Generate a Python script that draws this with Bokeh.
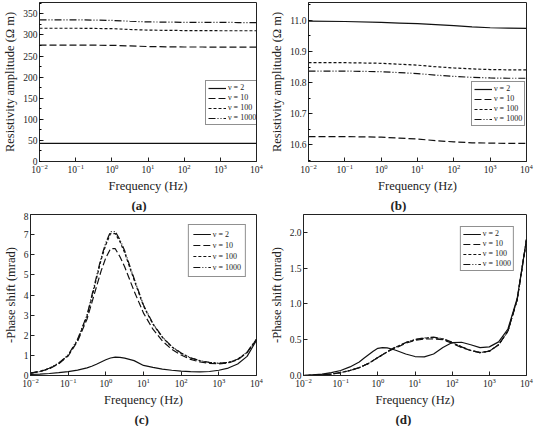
import numpy as np
from bokeh.plotting import figure
from bokeh.models import Title, Range1d, SingleIntervalTicker, FixedTicker, NumeralTickFormatter
from bokeh.layouts import column, row
from bokeh.embed import file_html
from bokeh.resources import INLINE

FONT = "Liberation Serif"
series_labels = ["ν = 2", "ν = 10", "ν = 100", "ν = 1000"]
dashes = ["solid", "7 3", "3 2", "7 2 1 2 1 2"]

# ---- panel (a) / (b): resistivity amplitude ----
exp_ab = [-2, -1, 0, 0.5, 1, 1.5, 2, 2.5, 3, 3.5, 4]
a_v2 = [43, 43, 43, 43, 43, 43, 43, 43, 43, 43, 43]
a_v10 = [276, 276, 275.5, 274, 272.5, 272, 271.5, 271.5, 271, 271, 271]
a_v100 = [316, 316, 315, 313, 311.5, 311, 310.5, 310.5, 310, 310, 310]
a_v1000 = [336, 336, 334.5, 332.5, 331, 330.5, 330, 330, 330, 329.5, 329.5]

b_v2 = [10.997, 10.996, 10.993, 10.991, 10.989, 10.986, 10.983, 10.979, 10.976, 10.975, 10.974]
b_v10 = [10.627, 10.627, 10.625, 10.622, 10.619, 10.614, 10.610, 10.607, 10.606, 10.605, 10.605]
b_v100 = [10.864, 10.864, 10.862, 10.859, 10.856, 10.851, 10.847, 10.844, 10.842, 10.841, 10.841]
b_v1000 = [10.837, 10.837, 10.835, 10.832, 10.829, 10.824, 10.820, 10.817, 10.815, 10.814, 10.814]

# ---- panel (c) / (d): phase shift ----
exp_cd = [-2, -1.75, -1.5, -1.25, -1, -0.75, -0.5, -0.375, -0.25, -0.125, 0, 0.125, 0.25,
          0.375, 0.5, 0.75, 1, 1.25, 1.5, 1.75, 2, 2.25, 2.5, 2.75, 3, 3.25, 3.5, 3.75, 4]
c_v2 = [0.05, 0.07, 0.1, 0.14, 0.19, 0.27, 0.38, 0.46, 0.56, 0.67, 0.78, 0.87, 0.91, 0.9, 0.86,
        0.74, 0.5, 0.4, 0.32, 0.26, 0.22, 0.19, 0.18, 0.2, 0.26, 0.37, 0.57, 0.95, 1.75]
c_v10 = [0.12, 0.2, 0.34, 0.58, 0.97, 1.7, 2.8, 3.6, 4.4, 5.2, 5.85, 6.3, 6.3, 5.9, 5.4,
         4.2, 3.1, 2.3, 1.72, 1.3, 1.02, 0.8, 0.67, 0.6, 0.58, 0.62, 0.78, 1.13, 1.8]
c_v100 = [0.12, 0.2, 0.35, 0.6, 1.0, 1.75, 2.95, 3.85, 4.8, 5.75, 6.5, 7.05, 7.05, 6.65, 6.1,
          4.75, 3.45, 2.55, 1.9, 1.42, 1.1, 0.87, 0.73, 0.64, 0.6, 0.64, 0.8, 1.15, 1.8]
c_v1000 = [0.12, 0.2, 0.36, 0.62, 1.02, 1.8, 3.0, 3.95, 4.9, 5.85, 6.6, 7.15, 7.15, 6.75, 6.2,
           4.82, 3.5, 2.58, 1.92, 1.44, 1.12, 0.88, 0.74, 0.65, 0.61, 0.65, 0.81, 1.16, 1.8]

d_v2 = [0.0, 0.01, 0.02, 0.04, 0.07, 0.12, 0.19, 0.24, 0.29, 0.34, 0.38, 0.39, 0.385, 0.37, 0.35,
        0.3, 0.265, 0.26, 0.3, 0.39, 0.46, 0.465, 0.43, 0.39, 0.4, 0.47, 0.65, 1.08, 1.9]
d_v10 = [0.0, 0.005, 0.01, 0.02, 0.04, 0.07, 0.11, 0.14, 0.17, 0.21, 0.25, 0.29, 0.33, 0.36, 0.39,
         0.45, 0.49, 0.51, 0.51, 0.5, 0.45, 0.39, 0.35, 0.32, 0.34, 0.43, 0.62, 1.06, 1.9]
d_v100 = [0.0, 0.005, 0.01, 0.02, 0.04, 0.07, 0.11, 0.14, 0.17, 0.21, 0.25, 0.29, 0.33, 0.37, 0.4,
          0.46, 0.5, 0.52, 0.53, 0.51, 0.46, 0.4, 0.35, 0.32, 0.34, 0.43, 0.62, 1.06, 1.9]
d_v1000 = [0.0, 0.005, 0.01, 0.02, 0.04, 0.07, 0.11, 0.14, 0.17, 0.21, 0.25, 0.29, 0.33, 0.37, 0.4,
           0.46, 0.505, 0.525, 0.535, 0.515, 0.465, 0.4, 0.35, 0.32, 0.34, 0.43, 0.62, 1.06, 1.9]


def panel(width, height, left, right, top, bottom, yrange, ylabel, tag, tag_off, exps, ys,
          yinterval, yminor, yfmt, legend_loc, leg_row_h, leg_pad, leg_margin):
    freq = [10.0 ** e for e in exps]
    p = figure(width=width, height=height, x_axis_type="log",
               x_range=Range1d(0.01, 10000), y_range=Range1d(*yrange),
               output_backend="svg", toolbar_location=None,
               min_border_left=left, min_border_right=right,
               min_border_top=top, min_border_bottom=bottom)
    p.grid.visible = False
    p.outline_line_color = "#222222"
    p.outline_line_width = 1
    p.background_fill_color = "white"
    p.border_fill_color = "white"
    for y, lab, d in zip(ys, series_labels, dashes):
        p.line(freq, y, line_color="#111111", line_width=1.2, line_dash=d, legend_label=lab)
    p.xaxis.ticker = FixedTicker(ticks=[0.01, 0.1, 1, 10, 100, 1000, 10000])
    p.yaxis.ticker = SingleIntervalTicker(interval=yinterval, num_minor_ticks=yminor)
    if yfmt:
        p.yaxis.formatter = NumeralTickFormatter(format=yfmt)
    for ax in (p.xaxis[0], p.yaxis[0]):
        ax.axis_line_color = "#222222"
        ax.major_tick_line_color = "#222222"
        ax.major_tick_in = 4
        ax.major_tick_out = 0
        ax.minor_tick_in = 2
        ax.minor_tick_out = 0
        ax.major_label_text_font = FONT
        ax.major_label_text_font_size = "9.5px"
        ax.major_label_text_color = "#222222"
        ax.axis_label_text_font = FONT
        ax.axis_label_text_font_size = "12.5px"
        ax.axis_label_text_font_style = "normal"
        ax.axis_label_text_color = "#222222"
        ax.major_label_standoff = 2
        ax.axis_label_standoff = 3
    p.xaxis.minor_tick_line_color = None
    if yminor == 0:
        p.yaxis.minor_tick_line_color = None
    p.xaxis.axis_label = "Frequency (Hz)"
    p.yaxis.axis_label = ylabel
    p.add_layout(Title(text=tag, align="left", offset=tag_off, text_font=FONT,
                       text_font_size="13px", text_font_style="bold",
                       text_color="#222222", standoff=0), "below")
    lg = p.legend[0]
    lg.location = legend_loc
    lg.border_line_color = "#222222"
    lg.border_line_width = 1
    lg.background_fill_alpha = 1
    lg.label_text_font = FONT
    lg.label_text_font_size = "8px"
    lg.label_text_color = "#222222"
    lg.glyph_width = 18
    lg.glyph_height = leg_row_h
    lg.label_height = leg_row_h
    lg.label_standoff = 2
    lg.spacing = 1
    lg.padding = leg_pad
    lg.margin = leg_margin
    return p


pa = panel(266, 212, 30, 10, 2, 50, (0, 377), "Resistivity amplitude (Ω m)", "(a)", 92,
           exp_ab, [a_v2, a_v10, a_v100, a_v1000], 50, 2, None, (166, 36), 8, 2, 0)
pb = panel(268, 212, 36, 8, 2, 50, (10.547, 11.057), "Resistivity amplitude (Ω m)", "(b)", 82,
           exp_ab, [b_v2, b_v10, b_v100, b_v1000], 0.1, 2, "0.0", (163, 35), 8, 2, 0)
pc = panel(266, 214, 18, 10, 2, 48, (0, 8), "-Phase shift (mrad)", "(c)", 104,
           exp_cd, [c_v2, c_v10, c_v100, c_v1000], 1, 0, None, "top_right", 10, 4, 10)
pd = panel(268, 214, 28, 8, 2, 48, (0, 2.25), "-Phase shift (mrad)", "(d)", 92,
           exp_cd, [d_v2, d_v10, d_v100, d_v1000], 0.5, 0, "0.0", "top_right", 8, 2, 12)

layout = column(row(pa, pb), row(pc, pd))
open("out.html", "w").write(file_html(layout, INLINE))
